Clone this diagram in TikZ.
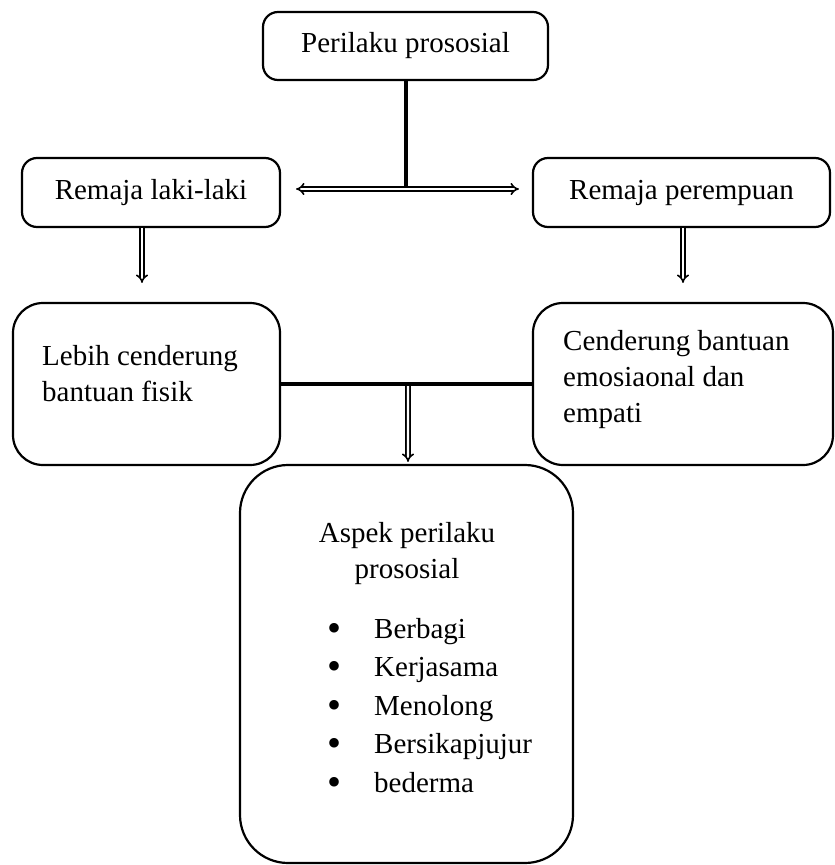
\documentclass[tikz,border=0pt]{standalone}
\usepackage{fontspec}
\setmainfont{Liberation Serif}
\usetikzlibrary{arrows.meta,calc}
\newcommand{\bigbul}{\makebox[47pt][l]{\raisebox{-3pt}{\fontsize{40}{36}\selectfont\textbullet}}}
\begin{document}
\begin{tikzpicture}[x=1pt,y=-1pt,
  box/.style={draw, line width=2.2pt, rounded corners=#1, inner sep=0pt,
    font=\fontsize{29}{36}\selectfont},
  box/.default=15pt,
  txt/.style={font=\fontsize{29}{36}\selectfont, inner sep=0pt, align=left},
  dbl/.style={draw, line width=1.6pt, double, double distance=2.4pt,
    -{Implies[length=6pt,width=15pt]}},
  heavy/.style={draw, line width=4pt}]
\useasboundingbox (0,0) rectangle (835,865);
% boxes
\node[box, minimum width=285pt, minimum height=68pt] (top) at (405.5,46) {Perilaku prososial};
\node[box, minimum width=258pt, minimum height=69pt] (l1) at (151,192.5) {Remaja laki-laki};
\node[box, minimum width=297pt, minimum height=69pt] (r1) at (681.5,192.5) {Remaja perempuan};
\node[box=30pt, minimum width=267pt, minimum height=162pt] (l2) at (146.5,384) {};
\node[box=30pt, minimum width=300pt, minimum height=162pt] (r2) at (683,384) {};
\node[box=48pt, minimum width=333pt, minimum height=398pt] (bot) at (406.5,664) {};
% texts
\node[txt, anchor=north west] (t2l) at (42,345) {Lebih cenderung\\bantuan fisik};
\node[txt, anchor=north west] (t2r) at (563,330) {Cenderung bantuan\\emosiaonal dan\\empati};
\node[txt, align=center, anchor=north] (tb) at (407,522) {Aspek perilaku\\prososial};
\node[txt, anchor=north west, font=\fontsize{29}{38.5}\selectfont] (tl) at (327,618)
  {\bigbul Berbagi\\
   \bigbul Kerjasama\\
   \bigbul Menolong\\
   \bigbul Bersikapjujur\\
   \bigbul bederma};
% connectors
\coordinate (j) at ([yshift=3.5pt]l1.east -| top.south);
\draw[heavy] (top.south) -- (j);
\draw[dbl, {Implies[length=6pt,width=15pt]}-{Implies[length=6pt,width=15pt]}]
  ([xshift=15pt,yshift=3.5pt]l1.east) -- ([xshift=-13pt,yshift=3.5pt]r1.west);
\draw[dbl] ([xshift=-9pt]l1.south) -- ([xshift=-4.5pt,yshift=19pt]l2.north);
\draw[dbl] ([xshift=1.5pt]r1.south) -- ([yshift=19pt]r2.north);
\coordinate (m) at ($(l2.east)!0.5!(r2.west)$);
\draw[dbl] ([xshift=1.5pt]m) -- ([xshift=1.5pt,yshift=2pt]bot.north);
\draw[heavy] (l2.east) -- (r2.west);
\end{tikzpicture}
\end{document}
